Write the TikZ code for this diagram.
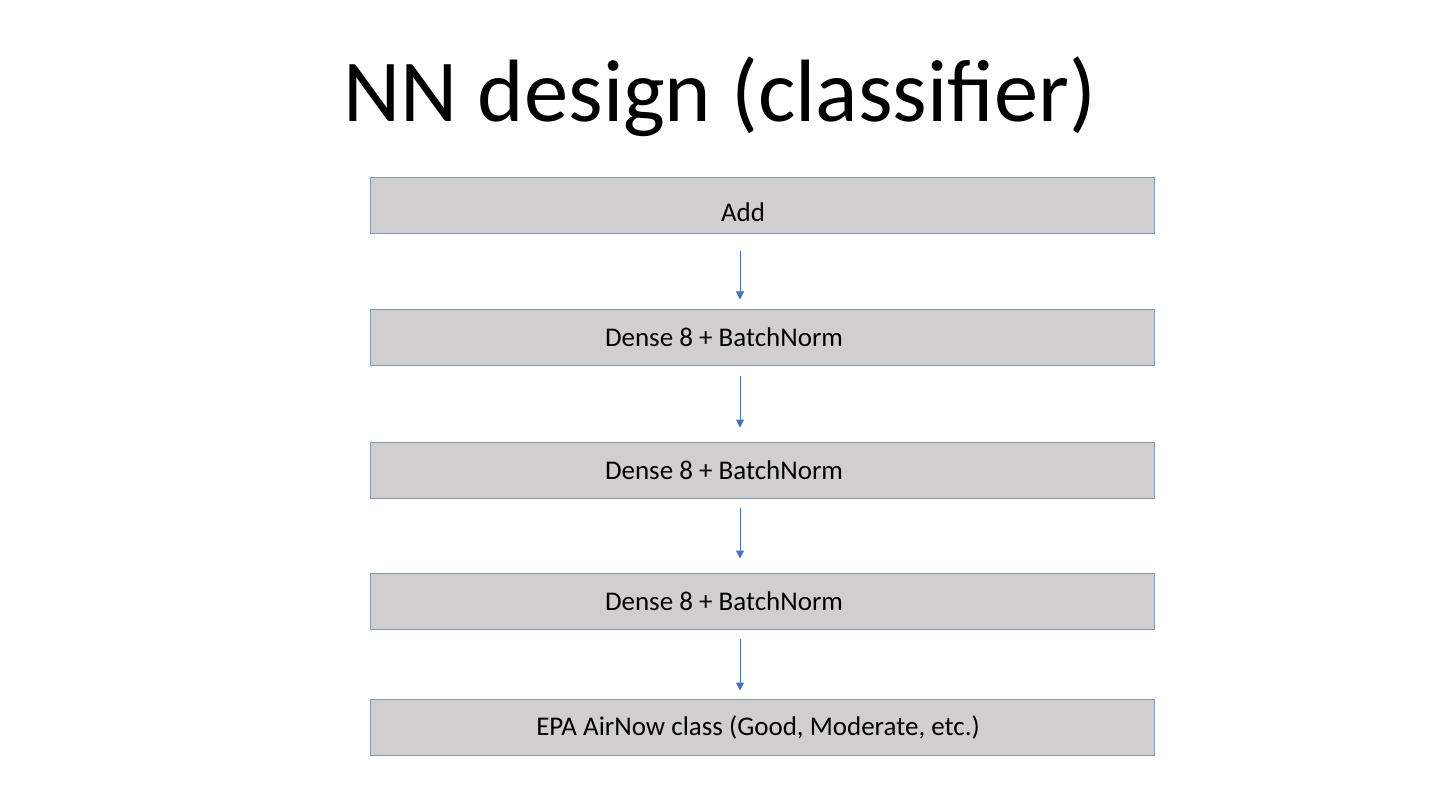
\documentclass[tikz,border=0pt]{standalone}
\usepackage{fontspec}
\setmainfont{Carlito}
\usetikzlibrary{positioning,arrows.meta}
\definecolor{boxfill}{HTML}{D0CECE}
\definecolor{boxline}{HTML}{8497B0}
\definecolor{arrowblue}{HTML}{4472C4}

\begin{document}
\begin{tikzpicture}[->,>={Triangle[width=8pt,length=8pt]},node distance=74pt,
        layer node/.style={rectangle,fill=boxfill,draw=boxline,line width=1pt,
          minimum width=784pt,minimum height=56pt,inner sep=0pt},
        layer text/.style={font=\fontsize{27}{30}\selectfont}]
        \useasboundingbox (0,0) rectangle (1440pt,-810pt);

        \node[font=\fontsize{88.5}{92}\selectfont,anchor=base] (title) at (720pt,-122pt) {NN design (classifier)};

        \node[layer node,label={[layer text,xshift=-19pt,yshift=-6pt]center:Add}] (1) at (762pt,-206pt) {};
        \node[layer node,label={[layer text,xshift=-38pt]center:Dense 8 + BatchNorm}] (2) [below=of 1] {};
        \node[layer node,label={[layer text,xshift=-38pt]center:Dense 8 + BatchNorm}] (3) [below=76pt of 2] {};
        \node[layer node,label={[layer text,xshift=-38pt]center:Dense 8 + BatchNorm}] (4) [below=74pt of 3] {};
        \node[layer node,label={[layer text,xshift=-4pt]center:EPA AirNow class (Good, Moderate, etc.)}] (5) [below=69pt of 4] {};

        \path[color=arrowblue,line width=1pt,transform canvas={xshift=-22pt}]
        (1) edge[shorten <=17pt,shorten >=9pt] (2)
        (2) edge[shorten <=10pt,shorten >=14pt] (3)
        (3) edge[shorten <=9pt,shorten >=14pt] (4)
        (4) edge[shorten <=9pt,shorten >=8pt] (5);
      \end{tikzpicture}
\end{document}
